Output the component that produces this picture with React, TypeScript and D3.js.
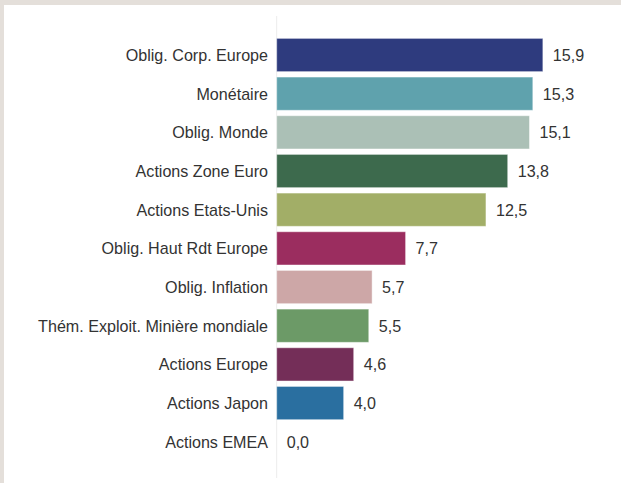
import React from "react";
import * as d3 from "d3";

const categories = [
  "Oblig. Corp. Europe",
  "Monétaire",
  "Oblig. Monde",
  "Actions Zone Euro",
  "Actions Etats-Unis",
  "Oblig. Haut Rdt Europe",
  "Oblig. Inflation",
  "Thém. Exploit. Minière mondiale",
  "Actions Europe",
  "Actions Japon",
  "Actions EMEA",
];
const values = [15.9, 15.3, 15.1, 13.8, 12.5, 7.7, 5.7, 5.5, 4.6, 4.0, 0.0];
const colors = [
  "#2e3b7e",
  "#5fa2ad",
  "#abc0b6",
  "#3d6a4d",
  "#a2ae67",
  "#9b2d5f",
  "#cda7a7",
  "#6c9a67",
  "#742e58",
  "#2a6fa0",
  "#888888",
];

const W = 621;
const H = 483;

export default function App() {
  const x0 = 276.7;
  const x = d3.scaleLinear().domain([0, 16]).range([x0, x0 + 16 * 16.74]);
  const y = d3
    .scaleBand<string>()
    .domain(categories)
    .range([35.67, 461.07])
    .paddingInner(0.14)
    .paddingOuter(0.07);
  const fmt = (v: number) => d3.format(".1f")(v).replace(".", ",");
  const font = "'Liberation Sans', Arial, sans-serif";
  return (
    <svg
      width={W}
      height={H}
      style={{ position: "absolute", left: 0, top: 0 }}
      fontFamily={font}
    >
      <rect x={0} y={0} width={W} height={H} fill="#e4dfda" />
      <rect x={4} y={5} width={W - 4} height={H - 5} fill="#ffffff" />
      <line x1={x0} x2={x0} y1={16} y2={478} stroke="#ececec" strokeWidth={1} />
      {categories.map((c, i) => {
        const yy = y(c)!;
        const bw = y.bandwidth();
        const v = values[i];
        return (
          <g key={c}>
            {v > 0 && (
              <rect
                x={x(0)}
                y={yy}
                width={x(v) - x(0)}
                height={bw}
                fill={colors[i]}
                stroke="rgba(255,255,255,0.45)"
                strokeWidth={1}
              />
            )}
            <text
              x={268}
              y={yy + bw / 2}
              textAnchor="end"
              dominantBaseline="central"
              fontSize={16.1}
              fill="#333333"
            >
              {c}
            </text>
            <text
              x={x(v) + 10}
              y={yy + bw / 2}
              dominantBaseline="central"
              fontSize={16.1}
              fill="#333333"
            >
              {fmt(v)}
            </text>
          </g>
        );
      })}
    </svg>
  );
}
